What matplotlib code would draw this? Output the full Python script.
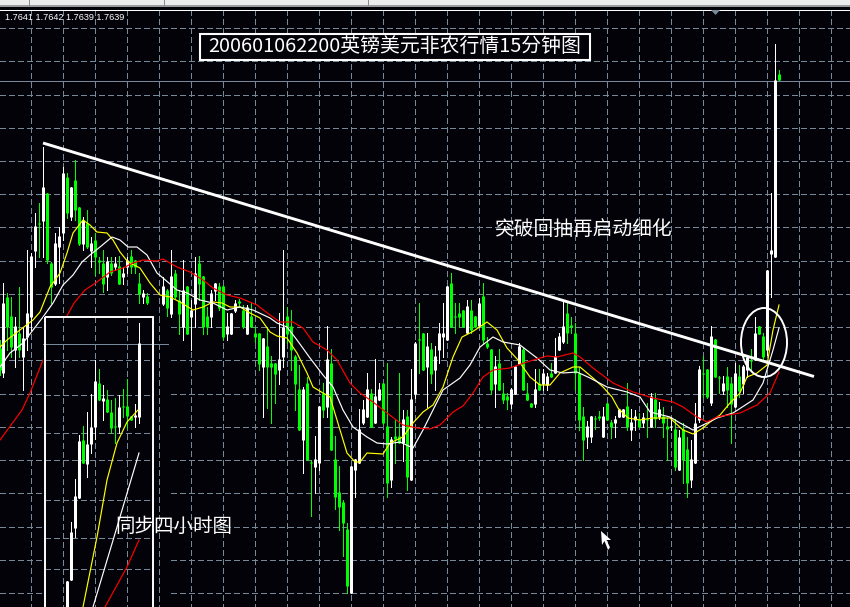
import matplotlib
matplotlib.use('Agg')
import matplotlib.pyplot as plt
from matplotlib.patches import Rectangle, Ellipse, Polygon

plt.rcParams['font.family'] = ['Noto Sans CJK SC', 'DejaVu Sans']

BG = '#020208'
GRID = '#778899'
GREEN = '#00ff00'

# main 15 minute bars, y values are read straight off the screenshot (pixel rows)
main_slots = list(range(-1, 37)) + list(range(40, 195))
main_kind = ('gwggwgwwww' 'gwggwwwgwg' 'gwgwgggwgw' 'gwwgggwg'
             'wgwggwgwwg' 'ggwwggwwwg' 'gwgggwgggw' 'wggggwggww' 'gwgggggwww'
             'wwgwwggwgg' 'wgwwggwgww' 'wwggggwggw' 'gggwgggwww' 'gggwgwwgww'
             'wgggggwwgg' 'wggwwwgwwg' 'wgwgwggwgw' 'ggwwwggwgg' 'wggwgwwgwg' 'gwwwg')
main_high = [340, 283, 293, 297, 317, 287, 327, 250, 253, 213,
             203, 147, 193, 262, 233, 227, 167, 173, 187, 160,
             207, 217, 210, 237, 233, 257, 250, 257, 257, 257,
             256, 267, 257, 250, 260, 273, 290, 293,
             277, 289, 250, 270, 290, 260, 286, 300, 257, 256,
             276, 307, 290, 283, 283, 285, 313, 313, 300, 299,
             305, 305, 303, 327, 333, 338, 327, 356, 363, 313,
             250, 307, 310, 355, 365, 387, 377, 460, 436, 406,
             383, 326, 349, 436, 466, 500, 523, 466, 459, 409,
             400, 373, 389, 359, 383, 383, 363, 437, 420, 373,
             410, 410, 369, 342, 303, 333, 333, 343, 346, 323,
             303, 286, 273, 303, 303, 310, 300, 300, 316, 298,
             283, 337, 349, 356, 349, 383, 393, 388, 366, 343,
             348, 383, 403, 369, 369, 369, 373, 363, 338, 333,
             300, 303, 317, 323, 367, 407, 421, 416, 416, 411,
             407, 403, 420, 416, 409, 409, 383, 409, 410, 413,
             413, 403, 393, 393, 402, 407, 418, 417, 419, 430,
             423, 437, 440, 403, 366, 356, 369, 326, 339, 376,
             376, 367, 377, 363, 365, 365, 357, 349, 317, 326,
             333, 270, 193, 44, 70]
main_top = [348, 303, 297, 316, 326, 333, 338, 313, 256, 226,
            223, 187, 193, 263, 243, 236, 173, 177, 187, 180,
            207, 220, 223, 243, 240, 260, 263, 261, 263, 263,
            266, 273, 260, 256, 260, 283, 293, 296,
            286, 290, 276, 273, 300, 290, 286, 310, 273, 263,
            276, 316, 293, 283, 286, 286, 326, 313, 303, 301,
            310, 307, 316, 333, 333, 338, 346, 363, 363, 359,
            327, 316, 326, 356, 389, 389, 383, 462, 459, 406,
            393, 359, 363, 459, 492, 502, 529, 466, 459, 429,
            409, 389, 393, 396, 389, 383, 426, 439, 436, 436,
            419, 416, 399, 343, 339, 333, 346, 349, 356, 333,
            333, 286, 283, 316, 313, 310, 306, 310, 316, 303,
            296, 343, 349, 366, 363, 393, 396, 389, 366, 346,
            349, 393, 403, 389, 383, 373, 376, 373, 356, 336,
            326, 313, 325, 333, 373, 416, 426, 416, 418, 416,
            416, 403, 422, 419, 409, 409, 406, 422, 416, 419,
            417, 419, 396, 399, 409, 416, 426, 426, 429, 437,
            429, 449, 459, 423, 369, 373, 369, 336, 339, 377,
            383, 376, 383, 373, 376, 366, 357, 360, 333, 326,
            336, 270, 250, 80, 74]
main_bot = [370, 373, 327, 347, 350, 350, 357, 337, 317, 251,
            224, 221, 260, 287, 284, 247, 233, 213, 217, 210,
            244, 244, 247, 251, 257, 262, 284, 277, 273, 267,
            284, 277, 267, 267, 267, 294, 297, 303,
            304, 308, 314, 297, 314, 327, 334, 317, 304, 284,
            327, 327, 317, 291, 308, 337, 334, 334, 311, 303,
            327, 334, 327, 337, 364, 367, 367, 367, 374, 370,
            357, 334, 350, 384, 430, 440, 460, 463, 467, 463,
            410, 407, 450, 497, 507, 523, 586, 593, 470, 463,
            423, 417, 427, 423, 400, 423, 483, 480, 439, 443,
            443, 477, 480, 394, 340, 370, 367, 374, 370, 350,
            337, 340, 327, 317, 317, 327, 333, 330, 327, 326,
            340, 347, 390, 384, 390, 400, 400, 404, 394, 364,
            390, 400, 407, 404, 390, 384, 385, 377, 373, 350,
            342, 333, 327, 373, 420, 440, 437, 437, 419, 418,
            437, 420, 427, 423, 417, 417, 427, 430, 420, 427,
            423, 420, 427, 419, 417, 423, 429, 427, 467, 470,
            460, 483, 480, 463, 420, 374, 397, 403, 377, 378,
            391, 390, 404, 407, 391, 384, 370, 361, 360, 334,
            357, 350, 254, 257, 80]
main_low = [375, 377, 350, 357, 367, 357, 390, 350, 330, 267,
            257, 257, 263, 303, 285, 283, 240, 218, 220, 220,
            245, 250, 248, 267, 275, 273, 292, 290, 275, 270,
            284, 284, 273, 273, 273, 303, 303, 304,
            305, 317, 317, 298, 334, 340, 334, 350, 327, 300,
            334, 334, 327, 300, 310, 340, 340, 334, 312, 307,
            328, 334, 327, 342, 370, 417, 408, 423, 403, 384,
            367, 343, 370, 410, 430, 473, 460, 516, 493, 470,
            417, 417, 450, 509, 530, 556, 593, 593, 497, 463,
            424, 417, 427, 423, 400, 424, 497, 487, 463, 443,
            461, 490, 480, 398, 373, 370, 407, 383, 390, 363,
            357, 340, 327, 333, 327, 327, 333, 333, 327, 327,
            343, 348, 394, 407, 390, 403, 409, 408, 394, 364,
            390, 400, 407, 407, 390, 390, 390, 377, 373, 350,
            343, 343, 333, 390, 430, 460, 448, 442, 429, 420,
            437, 420, 438, 437, 417, 417, 430, 440, 430, 427,
            427, 437, 427, 427, 419, 437, 460, 430, 470, 470,
            483, 497, 487, 463, 422, 397, 398, 405, 377, 393,
            394, 407, 443, 407, 397, 393, 377, 370, 360, 334,
            360, 355, 297, 257, 80]

# moving averages: (column, row)
yellow_x = [0, 7, 20, 33, 40, 50, 60, 67, 73, 83, 90, 97, 107, 113, 120, 128, 140, 150, 160, 170,
            180, 193, 203, 213, 222, 230, 240, 250, 260, 270, 277, 287, 297, 307, 313, 323, 330, 337,
            347, 355, 360, 367, 383, 390, 403, 413, 423, 433, 443, 453, 462, 472, 487, 497, 507, 518,
            530, 540, 550, 560, 573, 580, 593, 603, 612, 618, 628, 640, 653, 670, 683, 693, 703, 710,
            720, 730, 740, 747, 757, 767, 773, 779]
yellow_y = [347, 340, 330, 320, 312, 287, 273, 253, 233, 220, 225, 232, 233, 240, 252, 262, 268, 283, 295, 297,
            302, 310, 307, 302, 303, 307, 307, 313, 318, 332, 336, 338, 353, 373, 387, 393, 397, 420,
            453, 462, 462, 453, 454, 443, 437, 423, 412, 405, 387, 357, 337, 332, 322, 330, 348, 360,
            377, 385, 385, 373, 367, 367, 378, 387, 397, 408, 418, 420, 418, 418, 430, 434, 428, 422,
            415, 403, 393, 377, 373, 365, 330, 305]
white_x = [0, 10, 23, 43, 53, 63, 73, 82, 90, 100, 112, 120, 128, 137, 147, 157, 163, 177, 187, 200,
           213, 227, 240, 253, 270, 277, 287, 297, 310, 323, 333, 343, 353, 367, 377, 387, 400, 413,
           423, 433, 443, 460, 470, 480, 493, 503, 520, 537, 550, 563, 577, 590, 607, 627, 640, 650,
           670, 680, 693, 703, 717, 733, 753, 763, 773, 779]
white_y = [367, 353, 343, 317, 303, 285, 275, 262, 255, 247, 237, 240, 247, 247, 255, 273, 278, 290, 293, 300,
           303, 310, 307, 310, 318, 323, 327, 340, 358, 375, 387, 410, 427, 437, 443, 444, 442, 448,
           430, 410, 390, 378, 365, 347, 337, 342, 345, 358, 370, 373, 372, 378, 387, 392, 397, 412,
           417, 423, 430, 425, 418, 413, 400, 383, 350, 328]
red_x = [0, 22, 30, 43, 74, 85, 97, 110, 123, 133, 143, 157, 163, 177, 190, 203, 213, 227, 240, 257,
         270, 280, 293, 303, 313, 327, 337, 350, 360, 373, 387, 403, 417, 430, 440, 453, 463, 473,
         483, 493, 510, 527, 540, 547, 557, 573, 580, 593, 613, 633, 653, 673, 683, 697, 707, 717,
         740, 757, 770, 779]
red_y = [440, 410, 393, 360, 303, 290, 282, 272, 268, 263, 260, 261, 259, 267, 272, 280, 288, 295, 298, 305,
         315, 322, 322, 328, 342, 350, 360, 383, 393, 402, 413, 425, 428, 429, 425, 412, 406, 393,
         377, 370, 368, 362, 358, 356, 357, 353, 357, 368, 383, 392, 398, 402, 407, 417, 422, 417,
         413, 405, 393, 372]

# pasted four hour chart
h4_slots = list(range(16, 35))
h4_kind = 'wwwwgwwwgwggg' + 'wgggww'
h4_high = [581, 522, 479, 435, 426, 412, 394, 360, 369, 385, 390, 400, 398, 395, 389, 379, 416, 404, 323]
h4_top = [581, 532, 496, 441, 440, 444, 427, 381, 383, 398, 399, 412, 426, 407, 406, 406, 416, 415, 343]
h4_bot = [620, 580, 528, 498, 463, 464, 444, 427, 400, 401, 412, 428, 427, 427, 407, 416, 420, 417, 417]
h4_low = [620, 580, 537, 498, 463, 477, 453, 439, 400, 420, 412, 433, 443, 433, 417, 428, 420, 427, 423]
h4_yellow_x = [83, 97, 107, 117, 127, 138]
h4_yellow_y = [607, 537, 480, 443, 422, 410]
h4_white_x = [93, 117, 128, 139]
h4_white_y = [607, 527, 490, 453]
h4_red_x = [105, 127, 139]
h4_red_y = [607, 567, 540]
h4_grid_rows = [360, 395, 433, 460, 500, 538, 569]

grid_rows = [28, 61, 95, 128, 161, 194, 227, 261, 294, 327, 360, 394, 427, 460, 493, 527, 560, 593]
grid_cols = [31, 63, 95, 127, 159, 191, 223, 255, 287, 319, 351, 383, 415, 447, 479, 511, 543, 575,
             607, 639, 671, 703, 735, 767, 799, 831]

ohlc_text = '1.7641 1.7642 1.7639 1.7639'
title_text = '200601062200英镑美元非农行情15分钟图'
note_text = '突破回抽再启动细化'
h4_text = '同步四小时图'


def slot_x(s):
    return s * 4 + 3.5


def draw_bars(ax, slots, kind, high, top, bot, low, z):
    for s, k, h, t, b, l in zip(slots, kind, high, top, bot, low):
        c = 'white' if k == 'w' else GREEN
        x = slot_x(s)
        ax.vlines(x, h, l, colors=c, lw=0.7, zorder=z, antialiased=False)
        ax.vlines(x, t, max(b, t + 1), colors=c, lw=2.16, capstyle='butt', zorder=z)


fig = plt.figure(figsize=(8.5, 6.07), dpi=100, facecolor=BG)
ax = fig.add_axes([0, 0, 1, 1])
ax.set_xlim(0, 850)
ax.set_ylim(607, 0)
ax.axis('off')

dash = (0, (6, 4))
ax.hlines(grid_rows, 0, 850, colors=GRID, lw=0.7, linestyles=[dash], zorder=1, antialiased=False)
ax.vlines(grid_cols, 10, 607, colors=GRID, lw=0.7, linestyles=[dash], zorder=1, antialiased=False)
ax.hlines(80.5, 0, 850, colors='#76899c', lw=0.7, zorder=1, antialiased=False)

draw_bars(ax, main_slots, main_kind, main_high, main_top, main_bot, main_low, 2)
ax.plot(yellow_x, yellow_y, color='yellow', lw=0.85, zorder=3)
ax.plot(white_x, white_y, color='white', lw=0.85, zorder=3)
ax.plot(red_x, red_y, color='red', lw=0.85, zorder=3)

# the pasted picture hides whatever is behind it
ax.add_patch(Rectangle((43, 317), 126, 295, fc=BG, ec='none', zorder=5))
ax.vlines([c for c in grid_cols if 43 < c < 169], 317, 607, colors=GRID, lw=0.7, linestyles=[dash],
          zorder=6, antialiased=False)
ax.hlines(h4_grid_rows, 45, 153, colors=GRID, lw=0.7, linestyles=[dash], zorder=6, antialiased=False)
ax.hlines(343.5, 43, 168, colors='#76899c', lw=0.7, zorder=6, antialiased=False)
draw_bars(ax, h4_slots, h4_kind, h4_high, h4_top, h4_bot, h4_low, 7)
ax.plot(h4_yellow_x, h4_yellow_y, color='yellow', lw=0.85, zorder=8)
ax.plot(h4_white_x, h4_white_y, color='white', lw=0.85, zorder=8)
ax.plot(h4_red_x, h4_red_y, color='red', lw=0.85, zorder=8)
ax.add_patch(Rectangle((45.5, 317), 108, 300, fc='none', ec='white', lw=1.4, zorder=9))

# hand drawn marks
ax.plot([43, 814], [143, 376.5], color='white', lw=2.1, zorder=10, solid_capstyle='butt')
ax.add_patch(Ellipse((764, 342.5), 46, 69, fc='none', ec='white', lw=1.4, zorder=10))
ax.add_patch(Polygon([(601, 531), (602, 545), (604.5, 541), (608, 550), (610, 547.5), (606.5, 540), (611, 540)],
                     closed=True, fc='white', ec='none', zorder=10))

# window chrome along the top
ax.add_patch(Rectangle((0, 0), 850, 5, fc='#ececec', ec='none', zorder=11))
ax.add_patch(Rectangle((0, 5), 850, 2, fc='#9a9a9a', ec='none', zorder=11))
ax.vlines([29, 164, 368], 0, 5, colors='#8a8a8a', lw=0.7, zorder=12, antialiased=False)
ax.hlines(9.5, 0, 850, colors='white', lw=0.7, zorder=11, antialiased=False)
ax.add_patch(Polygon([(711, 10), (720, 10), (715.5, 15)], closed=True, fc=GRID, ec='none', zorder=11))

ax.text(5, 17.5, ohlc_text, color='white', fontsize=6.6, family=['Liberation Sans', 'DejaVu Sans'],
        ha='left', va='center', zorder=12)
ax.add_patch(Rectangle((200, 34), 390, 25.5, fc=BG, ec='white', lw=1.5, zorder=12))
ax.text(395, 46.5, title_text, color='white', fontsize=14.3, ha='center', va='center', zorder=13)
ax.text(495, 229, note_text, color='white', fontsize=14.2, ha='left', va='center', zorder=13)
ax.text(115, 526, h4_text, color='white', fontsize=14.0, ha='left', va='center', zorder=13)

fig.savefig('out.png', dpi=100, facecolor=BG)
